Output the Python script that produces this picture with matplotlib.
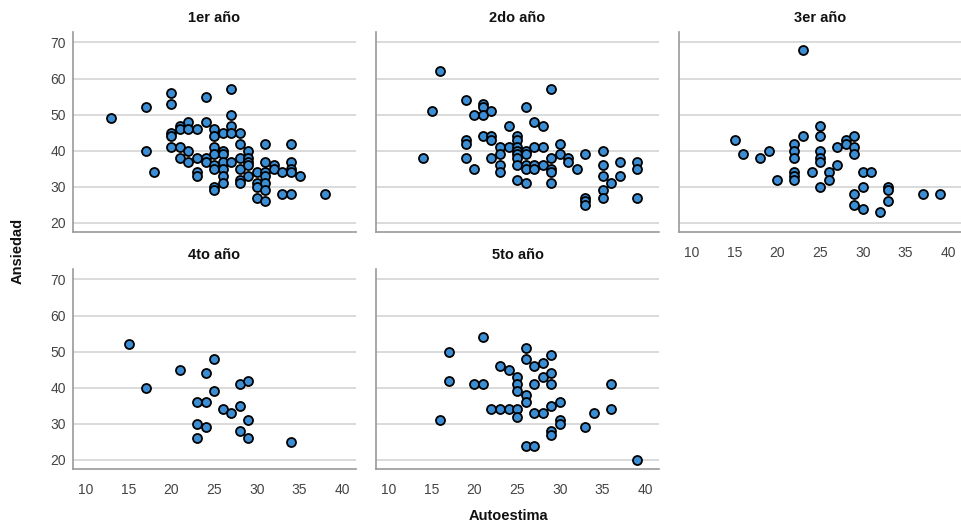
import matplotlib
matplotlib.use("Agg")
import matplotlib.pyplot as plt

plt.rcParams['font.family'] = ['Liberation Sans', 'DejaVu Sans']

# data: (autoestima, ansiedad) per year
# -------------------------------------------------------------------------------------
x_1er = [13, 17, 17, 18, 20, 20, 20, 20, 20, 21, 21, 21, 21, 22, 22, 22, 22,
         23, 23, 23, 23, 24, 24, 24, 24, 25, 25, 25, 25, 25, 25, 25, 25,
         26, 26, 26, 26, 26, 26, 26, 27, 27, 27, 27, 27, 28, 28, 28, 28, 28, 28,
         29, 29, 29, 29, 29, 30, 30, 30, 30, 31, 31, 31, 31, 31, 31, 31,
         32, 32, 33, 33, 34, 34, 34, 34, 34, 35, 38]
y_1er = [49, 52, 40, 34, 56, 53, 45, 44, 41, 47, 46, 41, 38, 48, 46, 40, 37,
         46, 38, 34, 33, 55, 48, 38, 37, 46, 44, 41, 39, 36, 35, 30, 29,
         45, 40, 39, 37, 35, 33, 31, 57, 50, 47, 45, 37, 45, 42, 38, 35, 32, 31,
         40, 38, 37, 36, 33, 34, 31, 30, 27, 42, 37, 34, 33, 31, 29, 26,
         36, 35, 34, 28, 42, 37, 35, 34, 28, 33, 28]

x_2do = [16, 15, 14, 19, 19, 19, 19, 20, 20, 21, 21, 21, 21, 22, 22, 22, 22,
         23, 23, 23, 23, 24, 24, 25, 25, 25, 25, 25, 25, 25, 25,
         26, 26, 26, 26, 26, 26, 27, 27, 27, 27, 28, 28, 28,
         29, 29, 29, 29, 29, 30, 30, 31, 31, 32, 33, 33, 33, 33,
         35, 35, 35, 35, 35, 36, 37, 37, 39, 39, 39]
y_2do = [62, 51, 38, 54, 43, 42, 38, 50, 35, 53, 52, 50, 44, 51, 44, 43, 38,
         41, 39, 36, 34, 47, 41, 44, 43, 41, 40, 39, 38, 36, 32,
         52, 40, 39, 36, 35, 31, 48, 41, 36, 35, 47, 41, 36,
         57, 38, 35, 34, 31, 42, 39, 38, 37, 35, 39, 27, 26, 25,
         40, 36, 33, 29, 27, 31, 37, 33, 37, 35, 27]

x_3er = [23, 15, 16, 18, 19, 20, 22, 22, 22, 22, 22, 22, 23, 24,
         25, 25, 25, 25, 25, 25, 26, 26, 27, 27, 28, 28,
         29, 29, 29, 29, 29, 30, 30, 30, 31, 32, 33, 33, 33, 37, 39]
y_3er = [68, 43, 39, 38, 40, 32, 42, 40, 38, 34, 33, 32, 44, 34,
         47, 44, 40, 38, 37, 30, 34, 32, 41, 36, 43, 42,
         44, 41, 39, 28, 25, 34, 30, 24, 34, 23, 30, 29, 26, 28, 28]

x_4to = [15, 17, 21, 23, 23, 23, 24, 24, 24, 25, 25, 26, 27, 28, 28, 28,
         29, 29, 29, 34]
y_4to = [52, 40, 45, 36, 30, 26, 44, 36, 29, 48, 39, 34, 33, 41, 35, 28,
         42, 31, 26, 25]

x_5to = [16, 17, 17, 20, 21, 21, 22, 23, 23, 24, 24, 25, 25, 25, 25, 25,
         26, 26, 26, 26, 26, 27, 27, 27, 27, 28, 28, 28,
         29, 29, 29, 29, 29, 29, 30, 30, 30, 33, 34, 36, 36, 39]
y_5to = [31, 50, 42, 41, 54, 41, 34, 46, 34, 45, 34, 43, 41, 39, 34, 32,
         51, 48, 38, 36, 24, 46, 41, 33, 24, 47, 43, 33,
         49, 44, 41, 35, 28, 27, 36, 31, 30, 29, 33, 41, 34, 20]

titulos = ["1er año", "2do año", "3er año", "4to año", "5to año"]
series = [(x_1er, y_1er), (x_2do, y_2do), (x_3er, y_3er), (x_4to, y_4to), (x_5to, y_5to)]

x_ticks = [10, 15, 20, 25, 30, 35, 40]
y_ticks = [20, 30, 40, 50, 60, 70]


# layout
# -------------------------------------------------------------------------------------
fig = plt.figure(figsize=(9.61, 5.30), dpi=100)

W = 961
H = 530
lefts = [73, 376, 679]
pw = 283
tops = [32, 269]
ph = 200

grid_col = "#d8d8d8"
spine_col = "#9a9a9a"
text_col = "#444444"

for i, (titulo, (xs, ys)) in enumerate(zip(titulos, series)):
    row, col = divmod(i, 3)
    ax = fig.add_axes([lefts[col] / W, 1 - (tops[row] + ph) / H, pw / W, ph / H])

    ax.scatter(xs, ys, s=42, facecolor="#3b8dd4", edgecolor="black",
               linewidth=1.3, zorder=3)

    ax.set_xlim(8.5, 41.6)
    ax.set_ylim(17.5, 72.9)
    ax.set_xticks(x_ticks)
    ax.set_yticks(y_ticks)
    ax.yaxis.grid(True, color=grid_col, linewidth=1.3)
    ax.set_axisbelow(True)

    for s in ["top", "right"]:
        ax.spines[s].set_visible(False)
    ax.spines["left"].set_color(spine_col)
    ax.spines["bottom"].set_color(spine_col)
    ax.spines["left"].set_linewidth(1.2)
    ax.spines["bottom"].set_linewidth(1.2)

    ax.tick_params(axis="y", length=0, labelsize=10, labelcolor=text_col, pad=5)
    ax.tick_params(axis="x", length=0, labelsize=10, labelcolor=text_col, pad=10)

    if col != 0:
        ax.tick_params(axis="y", labelleft=False)
    if row == 0 and col != 2:
        ax.tick_params(axis="x", labelbottom=False)

    ax.set_title(titulo, fontsize=10.5, fontweight="bold", color="#111111", pad=7)

fig.text(18 / W, 1 - 251 / H, "Ansiedad", rotation=90, ha="center", va="center",
         fontsize=10.5, fontweight="bold", color="#111111")
fig.text(508 / W, 1 - 516 / H, "Autoestima", ha="center", va="center",
         fontsize=10.5, fontweight="bold", color="#111111")

fig.savefig("out.png", dpi=100)
